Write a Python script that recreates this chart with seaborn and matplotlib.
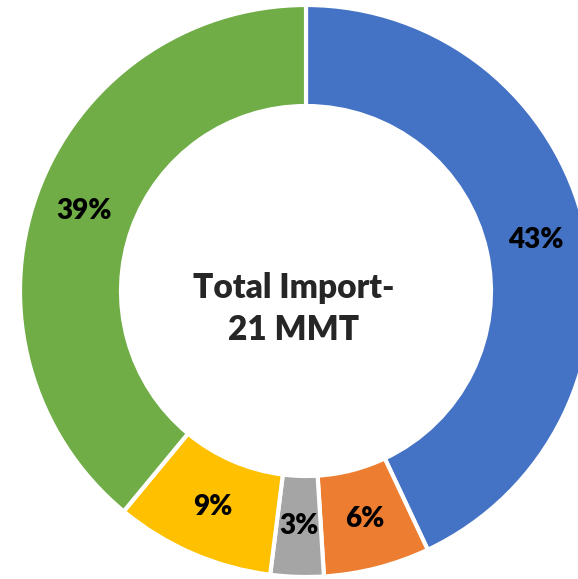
import matplotlib
matplotlib.use("Agg")
import matplotlib.pyplot as plt
import seaborn as sns

# Import share by source (percent), clockwise from 12 o'clock
shares = [43, 6, 3, 9, 39]
labels = [f"{v}%" for v in shares]
colors = ["#4472C4", "#ED7D31", "#A5A5A5", "#FFC000", "#70AD47"]
centre_text = "Total Import-\n21 MMT"

sns.set_style("white")
plt.rcParams["font.family"] = ["Lato", "DejaVu Sans"]

W, H = 578, 579
fig = plt.figure(figsize=(W / 100, H / 100), dpi=100)
ax = fig.add_axes([0, 0, 1, 1])

cx, cy, R = 306, H - 291, 286
ring = 1 - 185 / R

wedges, texts = ax.pie(
    shares, labels=labels, colors=colors, startangle=90, counterclock=False,
    center=(cx, cy), radius=R, labeldistance=1 - ring / 2,
    wedgeprops={"width": R * ring, "edgecolor": "white", "linewidth": 3},
    textprops={"fontsize": 20, "fontweight": "heavy", "color": "black",
               "ha": "center", "va": "center"},
)
for t in texts:
    t.set_horizontalalignment("center")

ax.text(cx - 12, H - 309, centre_text, ha="center", va="center",
        fontsize=24, fontweight="heavy", linespacing=1.4)

ax.set_xlim(0, W)
ax.set_ylim(0, H)
ax.set_aspect("equal")
ax.axis("off")

fig.savefig("out.png", dpi=100)
